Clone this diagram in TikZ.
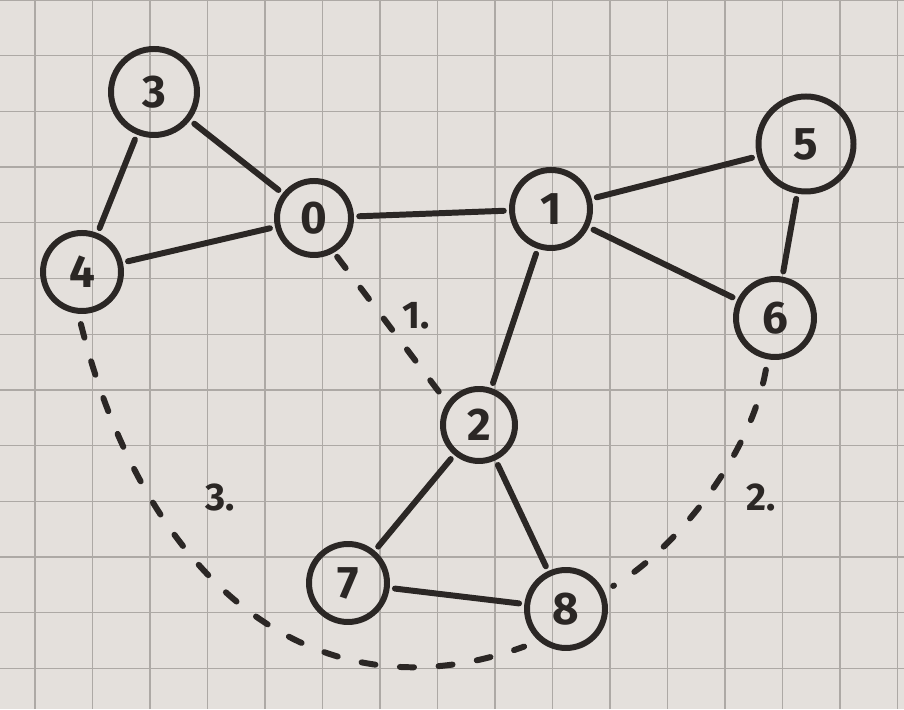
\documentclass[tikz,border=0pt]{standalone}
\usepackage{fontspec}
\setmainfont{Fira Sans}
\usepackage{tikz}
\usetikzlibrary{positioning}
\definecolor{paper}{HTML}{E4E0DC}
\definecolor{gridline}{HTML}{ADA9A5}
\definecolor{ink}{HTML}{2B2725}
\tikzstyle{vertex} = [circle, draw=ink, line width=3.4pt, minimum size=1.56cm, inner sep=0pt, text=ink, font=\fontsize{26}{30}\selectfont\bfseries]
\tikzstyle{edge} = [draw=ink, line width=3.4pt, line cap=round, shorten <=3pt, shorten >=3pt]
\tikzstyle{tour} = [edge, dash pattern=on 8pt off 14pt, shorten <=6pt, shorten >=6pt]
\tikzstyle{tag} = [text=ink, font=\fontsize{22}{26}\selectfont\bfseries]

\begin{document}
\begin{tikzpicture}
		\useasboundingbox (0,0) rectangle (18.08,14.18);
		\fill[paper] (0,0) rectangle (18.08,14.18);
		\foreach \k in {0,...,15}
			\draw[gridline, line width=0.7pt] ({0.70+1.150*\k},0) -- ++(0,14.18);
		\foreach \k in {0,...,12}
			\draw[gridline, line width=0.7pt] (0,{14.18-1.114*\k}) -- ++(18.08,0);
		
		\node (v3) [vertex, minimum size=1.72cm] at (3.08,12.34) {3};
		\node (v0) [vertex, minimum size=1.48cm] at (6.28,9.82) {0};
		\node (v4) [vertex] at (1.64,8.74) {4};
		\node (v1) [vertex] at (11.02,10.00) {1};
		\node (v5) [vertex, minimum size=1.9cm] at (16.12,11.30) {5};
		\node (v6) [vertex] at (15.50,7.82) {6};
		\node (v2) [vertex, minimum size=1.44cm] at (9.58,5.68) {2};
		\node (v7) [vertex] at (6.96,2.52) {7};
		\node (v8) [vertex] at (11.32,2.00) {8};
		
		\node (t1) [tag] at (8.32,7.86) {1.};
		\node (t2) [tag] at (15.22,4.24) {2.};
		\node (t3) [tag] at (4.40,4.24) {3.};
		%连接具体形状
		\draw [edge](v3) -- (v0);
		\draw [edge](v3) -- (v4);
		\draw [edge](v4) -- (v0);
		\draw [edge](v0) -- (v1);
		\draw [edge](v1) -- (v5);
		\draw [edge](v1) -- (v6);
		\draw [edge](v5) -- (v6);
		\draw [edge](v1) -- (v2);
		\draw [edge](v2) -- (v7);
		\draw [edge](v2) -- (v8);
		\draw [edge](v7) -- (v8);
		
		\draw [tour, shorten <=3pt, shorten >=3pt](v0.-60) -- (v2.145);
		\draw [tour](v6.-100) .. controls +(-100:2.0) and +(30:1.6) .. (v8.25);
		\draw [tour, shorten >=9pt](v4.-95) .. controls +(-76:5.5) and +(200:4.8) .. (v8.-130);
		
		
	\end{tikzpicture}
\end{document}
